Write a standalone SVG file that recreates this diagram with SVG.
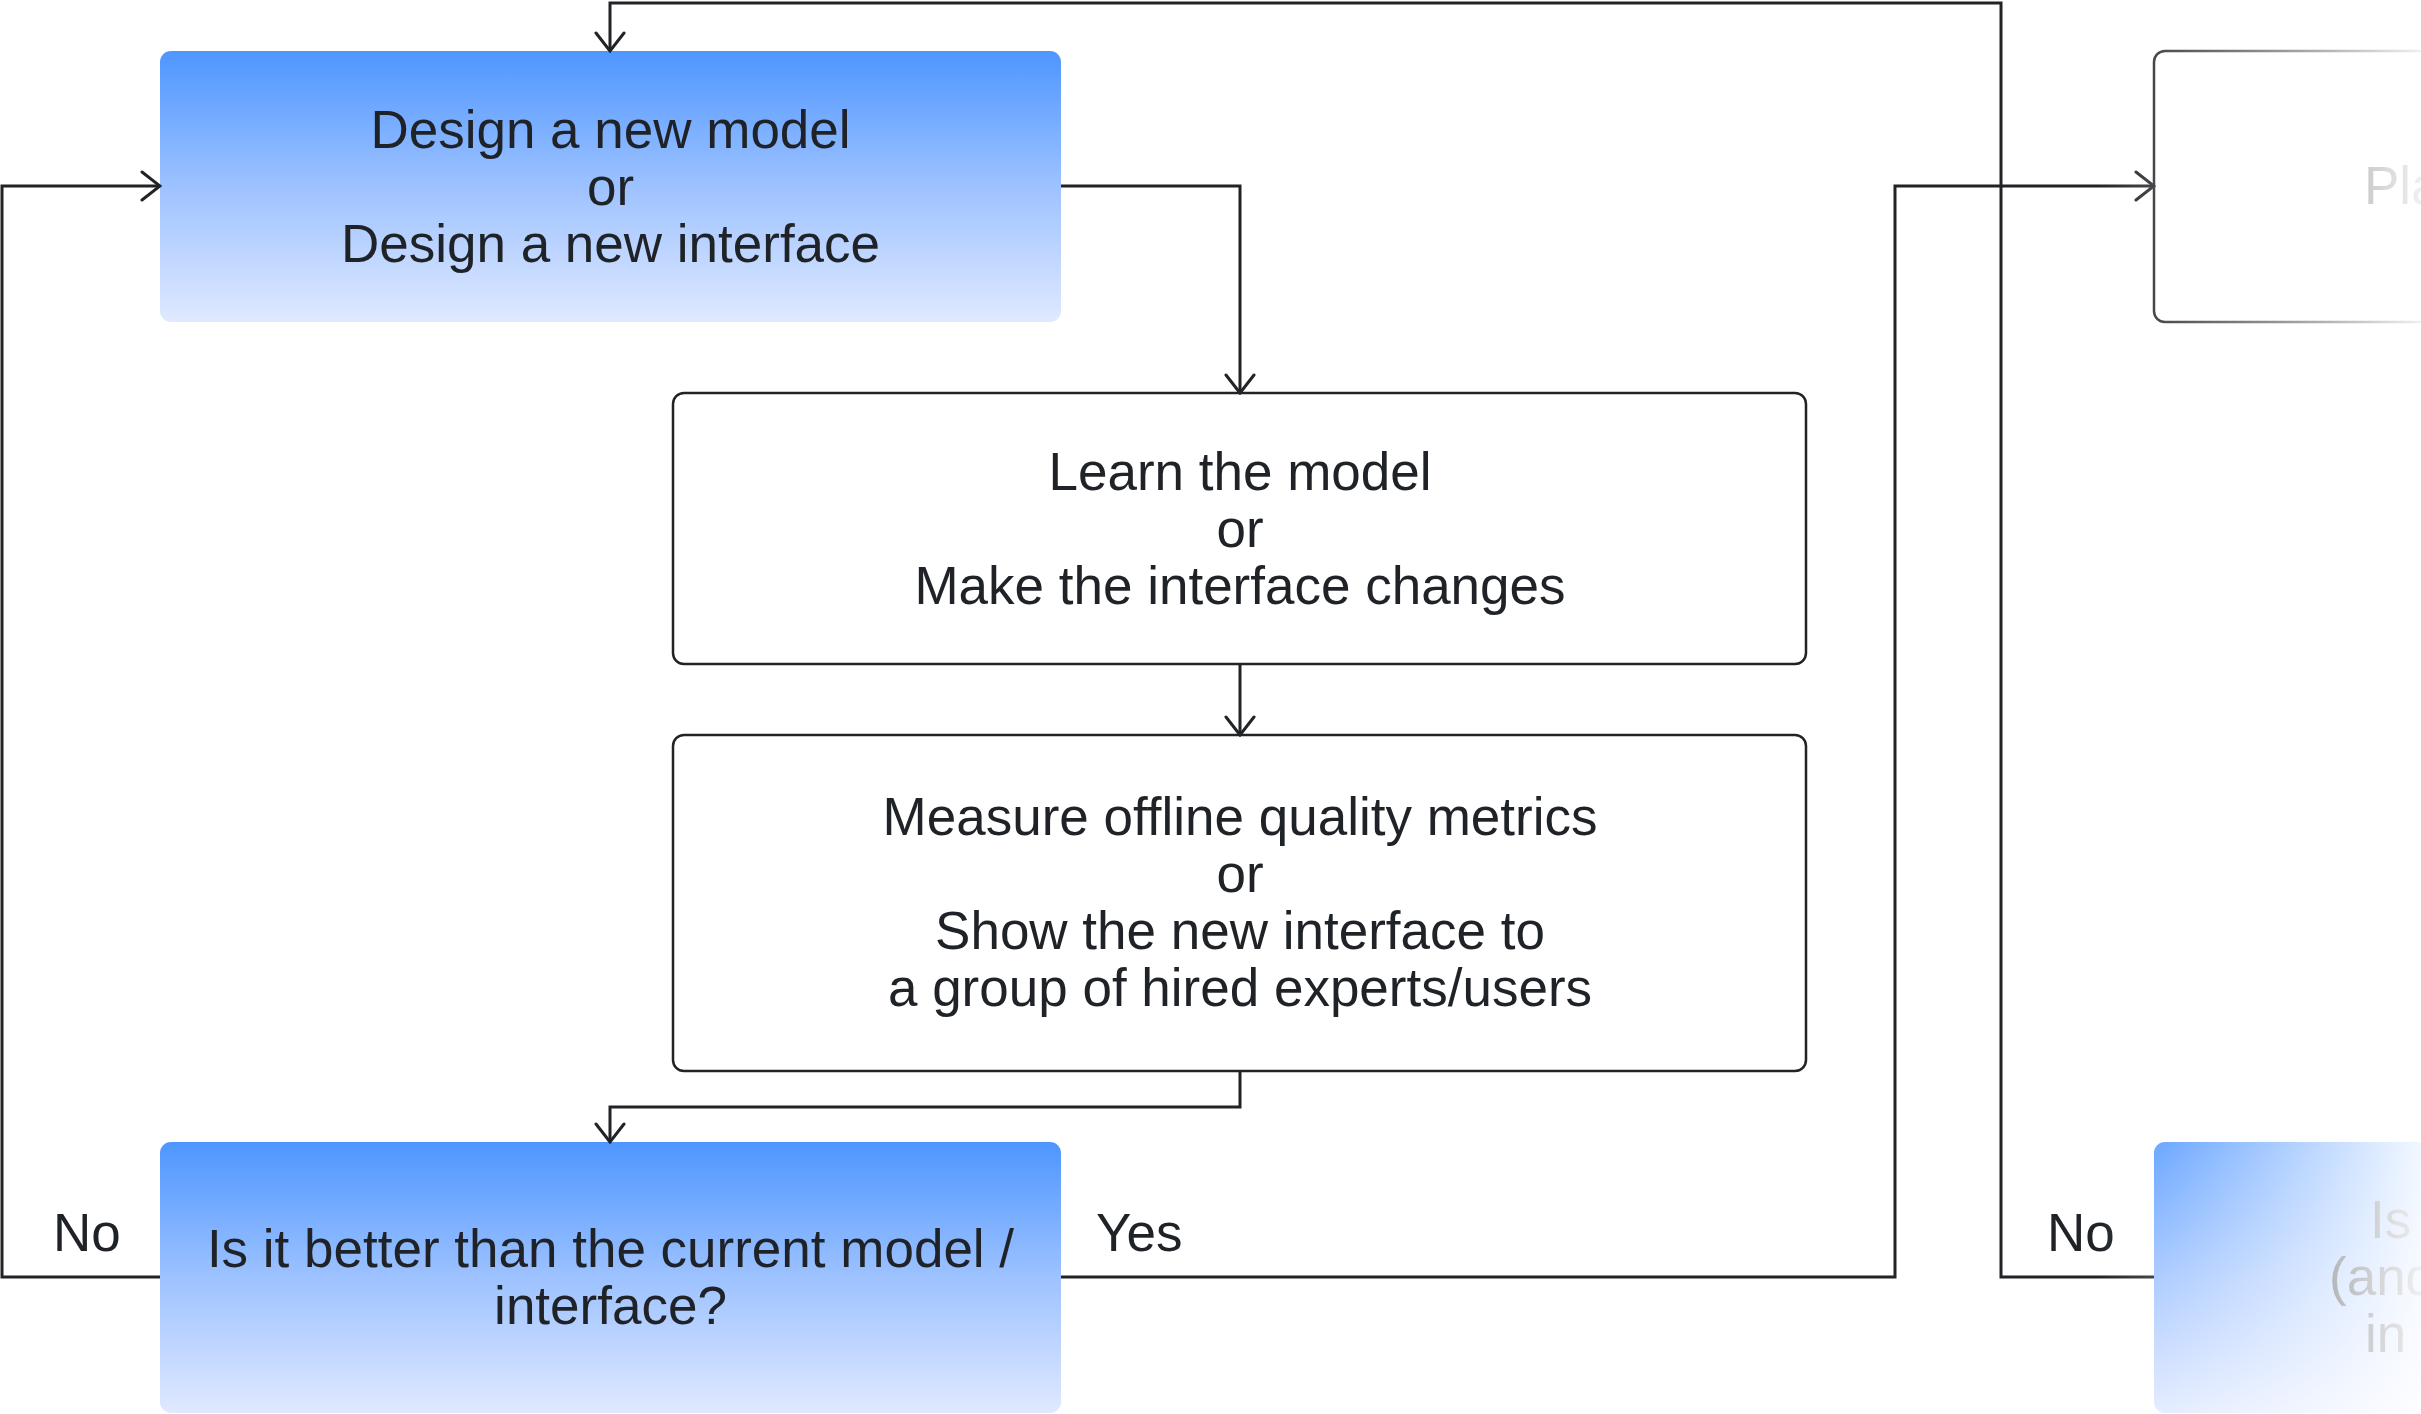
<svg xmlns="http://www.w3.org/2000/svg" width="2421" height="1414" viewBox="0 0 2421 1414">
  <defs>
    <linearGradient id="blue" x1="0" y1="0" x2="0" y2="1">
      <stop offset="0" stop-color="#4e96ff"/>
      <stop offset="0.5" stop-color="#9dc2ff"/>
      <stop offset="1" stop-color="#e0e9ff"/>
    </linearGradient>
    <linearGradient id="fade" gradientUnits="userSpaceOnUse" x1="2097" y1="0" x2="2421" y2="0">
      <stop offset="0" stop-color="#ffffff" stop-opacity="0"/>
      <stop offset="1" stop-color="#ffffff" stop-opacity="0.93"/>
    </linearGradient>
    <marker id="arrow" viewBox="-20 -16 22 32" refX="0" refY="0" markerWidth="22" markerHeight="32" markerUnits="userSpaceOnUse" orient="auto">
      <path d="M-18,-14 L0,0 L-18,14" fill="none" stroke="#212327" stroke-width="3" stroke-linecap="round" stroke-linejoin="miter"/>
    </marker>
    <style>
      .txt { font-family: "Liberation Sans", Arial, sans-serif; font-size: 53px; fill: #1f2328; text-anchor: middle; }
      .lbl { font-family: "Liberation Sans", Arial, sans-serif; font-size: 53px; fill: #1f2328; }
      .lft { font-family: "Liberation Sans", Arial, sans-serif; font-size: 53px; fill: #1f2328; text-anchor: start; }
      .blue { fill: url(#blue); stroke: none; }
      .plain { fill: #ffffff; stroke: #212327; stroke-width: 2.5; }
      .conn { fill: none; stroke: #212327; stroke-width: 3; }
    </style>
  </defs>
  <rect x="0" y="0" width="2421" height="1414" fill="#ffffff"/>

  <g id="node-design">
    <rect class="blue" x="160" y="51" width="901" height="271" rx="11"/>
    <text class="txt" x="610.5" y="147.5">Design a new model</text>
    <text class="txt" x="610.5" y="204.5">or</text>
    <text class="txt" x="610.5" y="261.5">Design a new interface</text>
  </g>

  <g id="node-learn">
    <rect class="plain" x="673" y="393" width="1133" height="271" rx="11"/>
    <text class="txt" x="1240" y="489.5">Learn the model</text>
    <text class="txt" x="1240" y="546.5">or</text>
    <text class="txt" x="1240" y="603.5">Make the interface changes</text>
  </g>

  <g id="node-measure">
    <rect class="plain" x="673" y="735" width="1133" height="336" rx="11"/>
    <text class="txt" x="1240" y="834.5">Measure offline quality metrics</text>
    <text class="txt" x="1240" y="891.5">or</text>
    <text class="txt" x="1240" y="948.5">Show the new interface to</text>
    <text class="txt" x="1240" y="1005.5">a group of hired experts/users</text>
  </g>

  <g id="node-better">
    <rect class="blue" x="160" y="1142" width="901" height="271" rx="11"/>
    <text class="txt" x="610.5" y="1266.5">Is it better than the current model /</text>
    <text class="txt" x="610.5" y="1323.5">interface?</text>
  </g>

  <g id="node-plan">
    <rect class="plain" x="2154" y="51" width="901" height="271" rx="11"/>
    <text class="lft" x="2364" y="204">Pla</text>
  </g>

  <g id="node-is">
    <rect class="blue" x="2154" y="1142" width="901" height="271" rx="11"/>
    <text class="lft" x="2370" y="1238">Is</text>
    <text class="lft" x="2329" y="1295">(and</text>
    <text class="lft" x="2365" y="1352">in</text>
  </g>

  <g id="connectors">
    <path class="conn" d="M160,1277 L2,1277 L2,186 L160,186" marker-end="url(#arrow)"/>
    <path class="conn" d="M2154,1277 L2001,1277 L2001,3 L610,3 L610,51" marker-end="url(#arrow)"/>
    <path class="conn" d="M1061,186 L1240,186 L1240,393" marker-end="url(#arrow)"/>
    <path class="conn" d="M1240,664 L1240,735" marker-end="url(#arrow)"/>
    <path class="conn" d="M1240,1071 L1240,1107 L610,1107 L610,1142" marker-end="url(#arrow)"/>
    <path class="conn" d="M1061,1277 L1895,1277 L1895,186 L2154,186" marker-end="url(#arrow)"/>
    <text class="lbl" x="53" y="1251">No</text>
    <text class="lbl" x="1096" y="1251">Yes</text>
    <text class="lbl" x="2047" y="1251">No</text>
  </g>

  <rect x="2097" y="0" width="324" height="1414" fill="url(#fade)"/>
</svg>
